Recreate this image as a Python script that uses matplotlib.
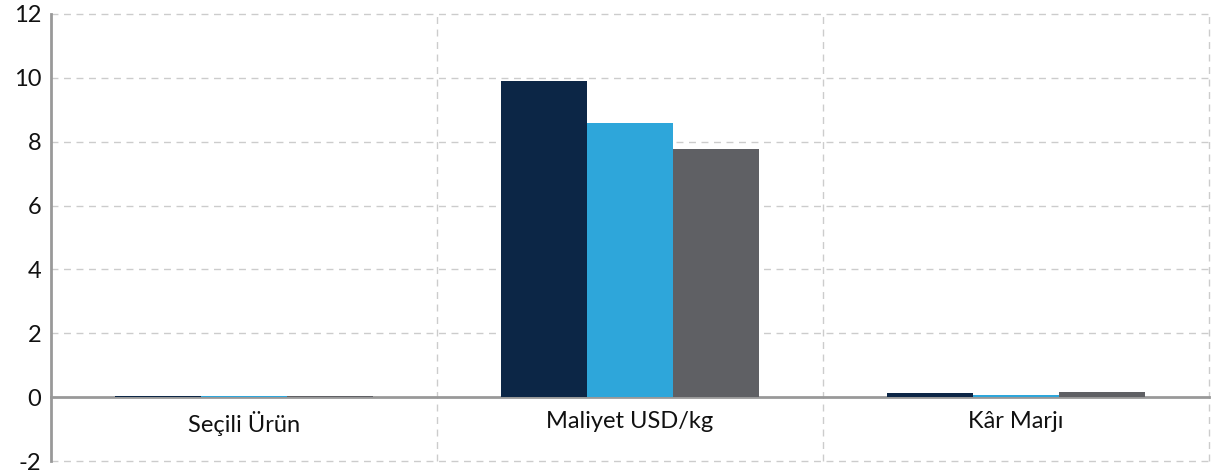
import matplotlib

matplotlib.use("Agg")

import matplotlib.pyplot as plt
import numpy as np

categories = ["Seçili Ürün", "Maliyet USD/kg", "Kâr Marjı"]
series_a = [0.03, 9.9, 0.13]
series_b = [0.03, 8.58, 0.07]
series_c = [0.03, 7.78, 0.15]
colors = ["#0c2646", "#2ea6da", "#5f6064"]
y_ticks = [-2, 0, 2, 4, 6, 8, 10, 12]

plt.rcParams["font.family"] = ["Lato", "DejaVu Sans"]

fig = plt.figure(figsize=(12.31, 4.75), dpi=100)
ax = fig.add_axes([51 / 1231, 14 / 475, (1209 - 51) / 1231, (461 - 14) / 475])

# spine position first: moving it resets the tick settings
for s in ["top", "right"]:
    ax.spines[s].set_visible(False)
ax.spines["bottom"].set_position(("data", 0))
ax.spines["bottom"].set_color("#999999")
ax.spines["bottom"].set_linewidth(2)
ax.spines["bottom"].set_zorder(2)
ax.spines["left"].set_color("#999999")
ax.spines["left"].set_linewidth(2)

x = np.arange(len(categories))
width = 0.223
for i, (vals, col) in enumerate(zip([series_a, series_b, series_c], colors)):
    ax.bar(x + (i - 1) * width, vals, width=width, color=col, zorder=3)

ax.set_xlim(-0.5, len(categories) - 0.5)
ax.set_ylim(-2, 12)

# horizontal grid
for t in y_ticks:
    if t != 0:
        ax.axhline(t, color="#cccccc", linestyle=(0, (5, 4)), linewidth=1, zorder=1, clip_on=False)
# vertical grid at category boundaries and right edge
for b in np.arange(0.5, len(categories) + 0.5, 1.0):
    ax.axvline(b, color="#cccccc", linestyle=(0, (5, 4)), linewidth=1, zorder=1, clip_on=False)

ax.set_yticks(y_ticks)
ax.set_yticklabels([str(t) for t in y_ticks])
ax.set_xticks(x)
ax.set_xticklabels(categories)
ax.tick_params(axis="x", length=0, pad=10, labelsize=17, labelcolor="#111111")
ax.tick_params(axis="y", length=0, pad=7, labelsize=17, labelcolor="#111111")

fig.savefig("out.png", dpi=100)
